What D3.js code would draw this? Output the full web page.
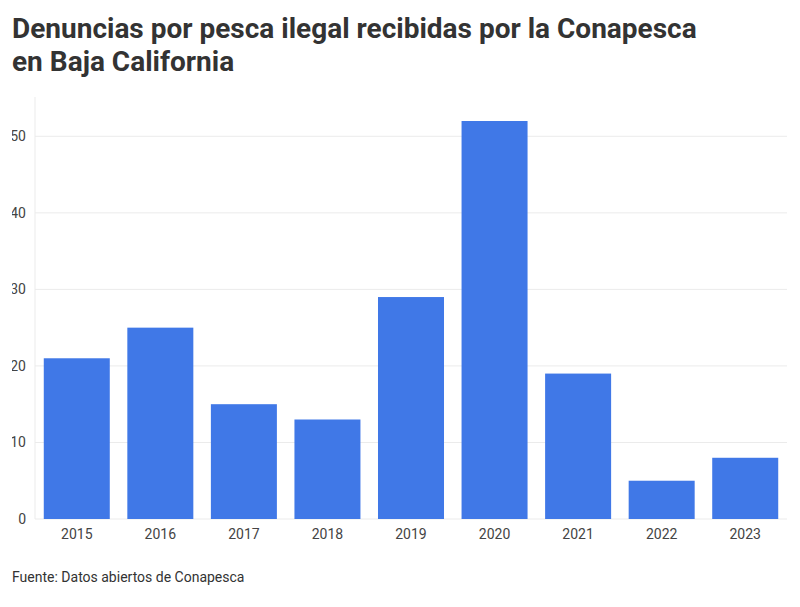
<!DOCTYPE html>
<html><head><meta charset="utf-8">
<script src="https://cdn.jsdelivr.net/npm/d3@7"></script>
<style>body{margin:0;background:#fff;font-family:Roboto,"Noto Sans",sans-serif;}</style>
</head><body><svg id="c" width="800" height="607"></svg>
<script>
const years=["2015","2016","2017","2018","2019","2020","2021","2022","2023"];
const values=[21,25,15,13,29,52,19,5,8];
const yTicks=[0,10,20,30,40,50];
const svg=d3.select("#c");
svg.append("text").attr("x",12).attr("y",38).attr("font-size",28).attr("font-weight",700).attr("fill","#333").text("Denuncias por pesca ilegal recibidas por la Conapesca");
svg.append("text").attr("x",12).attr("y",71).attr("font-size",28).attr("font-weight",700).attr("fill","#333").text("en Baja California");
const L=35,R=787,T=97,B=519;
const x=d3.scaleBand().domain(years).range([L,R]).paddingInner(0.21).paddingOuter(0.105);
const y=d3.scaleLinear().domain([0,52/((B-121)/(B-T))]).range([B,T]);
svg.append("defs").append("clipPath").attr("id","cl").append("rect").attr("x",12).attr("y",0).attr("width",800).attr("height",607);
const g=svg.append("g").attr("clip-path","url(#cl)");
g.selectAll(".gl").data(yTicks).join("line").attr("x1",L).attr("x2",R).attr("y1",d=>y(d)).attr("y2",d=>y(d)).attr("stroke","#ebebeb");
g.append("line").attr("x1",L).attr("x2",L).attr("y1",T).attr("y2",B).attr("stroke","#ebebeb");
g.selectAll(".yl").data(yTicks).join("text").attr("x",26).attr("y",d=>y(d)+5).attr("text-anchor","end").attr("font-size",14).attr("fill","#444").text(d=>d);
svg.selectAll(".b").data(values).join("rect").attr("x",(d,i)=>x(years[i])).attr("width",x.bandwidth()).attr("y",d=>y(d)).attr("height",d=>B-y(d)).attr("fill","#3a74e6").attr("opacity",0.97);
svg.selectAll(".xl").data(years).join("text").attr("x",d=>x(d)+x.bandwidth()/2).attr("y",539).attr("text-anchor","middle").attr("font-size",14).attr("fill","#444").text(d=>d);
svg.append("text").attr("x",12).attr("y",582).attr("font-size",14).attr("fill","#333").text("Fuente: Datos abiertos de Conapesca");
</script></body></html>
